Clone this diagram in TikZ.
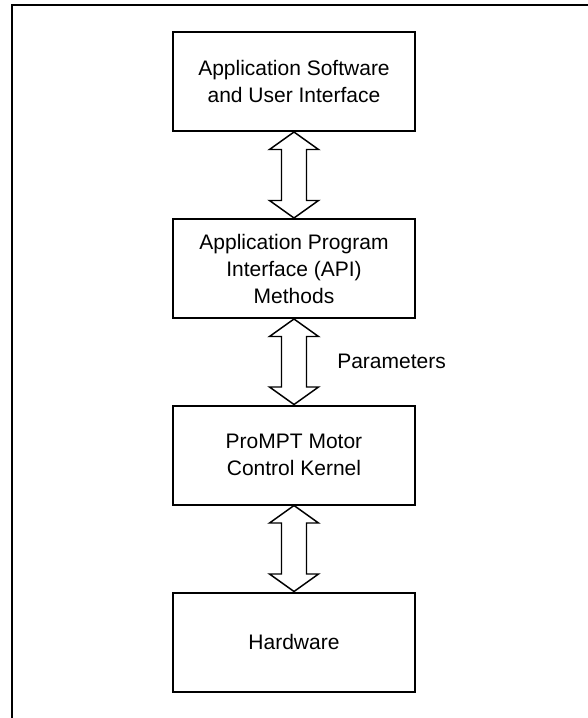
\documentclass[tikz,border=0pt]{standalone}
\usepackage{fontspec}
\setmainfont{Liberation Sans}
\usetikzlibrary{calc}
\tikzset{
  layerbox/.style={draw,line width=1.5pt,minimum width=181.5pt,minimum height=74.25pt,
    align=center,inner sep=0pt,font=\fontsize{15.75}{20.25}\selectfont},
  linkarrow/.style={draw,line width=1.1pt,fill=white,line join=miter},
}

\begin{document}
\begin{tikzpicture}[x=0.75pt,y=-0.75pt]
  \useasboundingbox (0,0) rectangle (588,718);
  % outer frame (open on the right and at the bottom)
  \draw[line width=1.5pt] (12,718) -- (12,5) -- (588,5);
  \node[layerbox] (app) at (294,81.5) {Application Software\\and User Interface};
  \node[layerbox] (api) at (294,268.5) {Application Program\\Interface (API)\\Methods};
  \node[layerbox] (kernel) at (294,455) {ProMPT Motor\\Control Kernel};
  \node[layerbox] (hw) at (294,642) {Hardware};
  % hollow double arrows between the layers
  \foreach \a/\b in {app/api,api/kernel,kernel/hw}
    \draw[linkarrow] (\a.south) -- ++(24.5,17.5) -- ++(-12,0)
      -- ($(\b.north)+(12.5,-17.5)$) -- ++(12,0) -- (\b.north)
      -- ++(-24.5,-17.5) -- ++(12,0)
      -- ($(\a.south)+(-12.5,17.5)$) -- ++(-12,0) -- cycle;
  \node[anchor=west,inner sep=0pt,font=\fontsize{15.75}{20.25}\selectfont] (params)
    at ($(api.south)!0.5!(kernel.north)+(43,0)$) {Parameters};
\end{tikzpicture}
\end{document}
